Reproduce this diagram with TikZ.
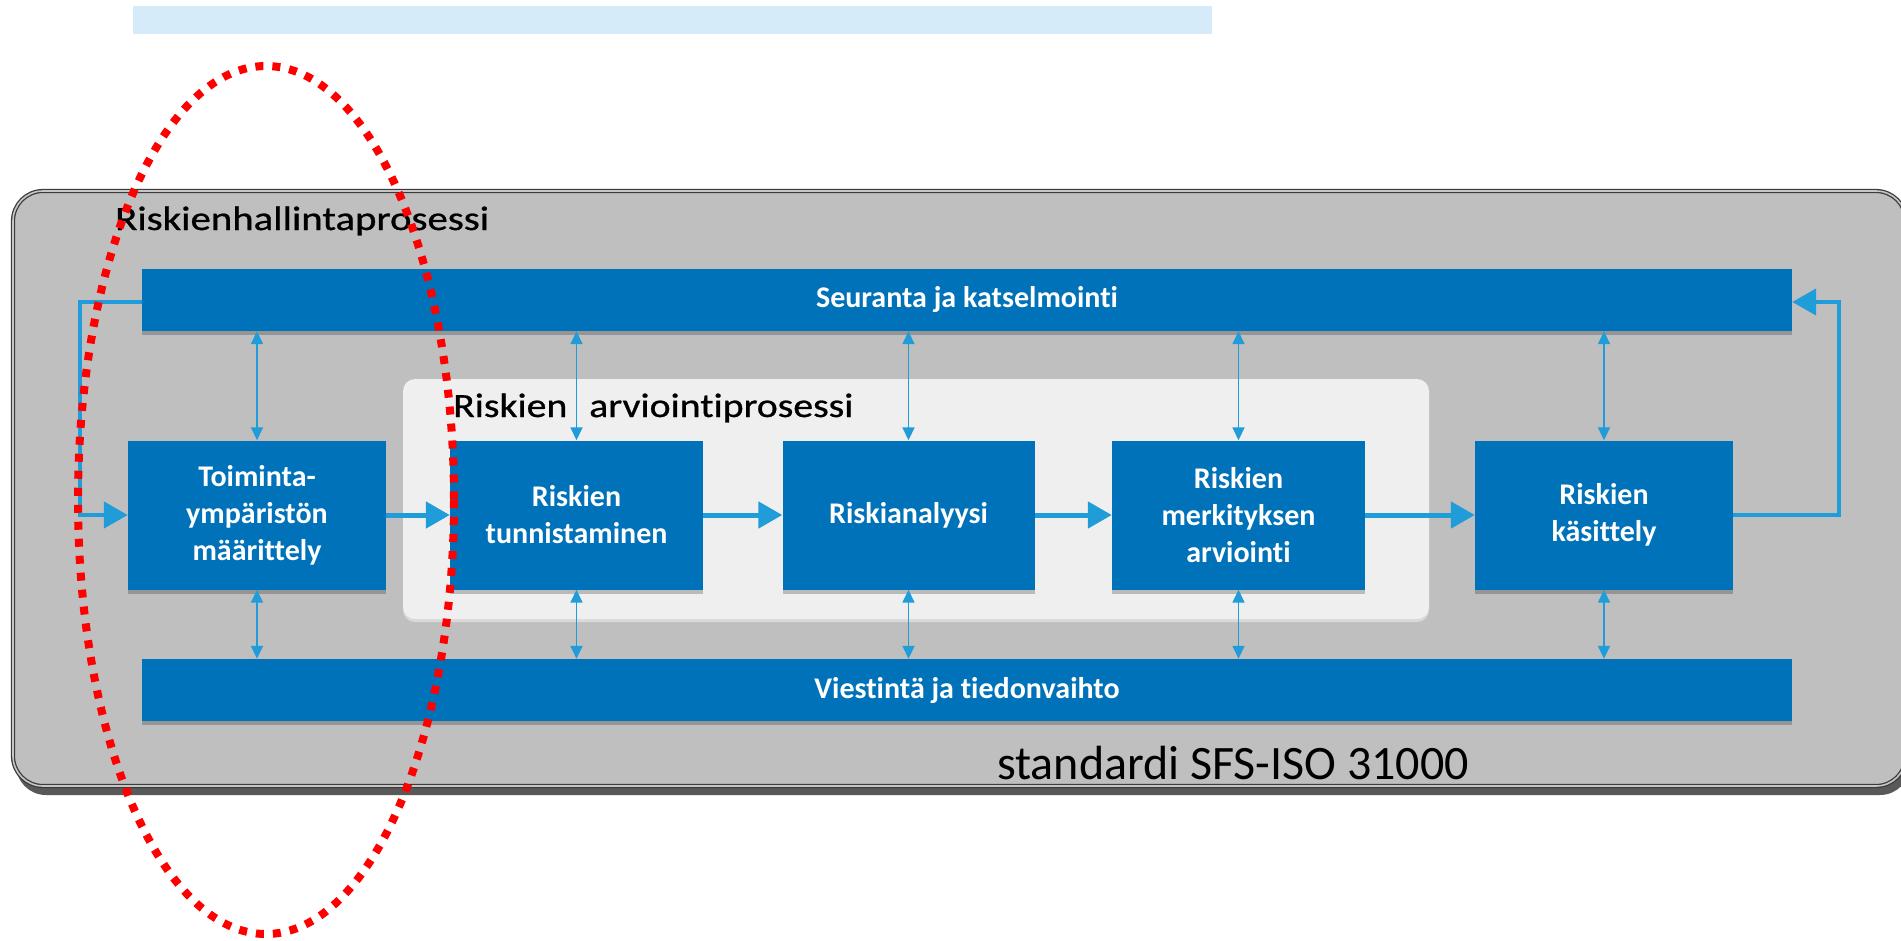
\documentclass[tikz,border=0pt]{standalone}
\usepackage{fontspec}
\usepackage{graphicx}
\setmainfont{Carlito}[Ligatures=NoCommon]
\newfontfamily\titlefont{Carlito}[Ligatures=NoCommon, FakeBold=0.7]
\usetikzlibrary{arrows.meta,shadows}
\definecolor{boxblue}{RGB}{0,114,185}
\definecolor{arrblue}{RGB}{32,156,216}
\definecolor{bggray}{RGB}{191,191,191}
\definecolor{innerbg}{RGB}{239,239,239}
\definecolor{topbar}{RGB}{213,235,250}
\definecolor{framedark}{RGB}{60,60,60}
\begin{document}
\begin{tikzpicture}[x=1pt,y=-1pt,
  stepbox/.style={rectangle, fill=boxblue, text=white,
    font=\bfseries\fontsize{30}{37}\selectfont,
    align=center, inner sep=0pt, minimum height=149pt,
    drop shadow={shadow xshift=0pt, shadow yshift=-4pt, opacity=0.22, fill=black}},
  barbox/.style={rectangle, fill=boxblue, text=white, font=\bfseries\fontsize{30}{37}\selectfont,
    inner sep=0pt, minimum width=1650pt, minimum height=62pt,
    drop shadow={shadow xshift=0pt, shadow yshift=-4pt, opacity=0.22, fill=black}},
  flow/.style={arrblue, line width=5pt, -{Triangle[length=24pt,width=26pt]}},
  loopline/.style={arrblue, line width=4.5pt, line join=miter, -{Triangle[length=24pt,width=26pt]}},
  link/.style={arrblue, line width=1.6pt, {Triangle[length=13pt,width=12pt]}-{Triangle[length=13pt,width=12pt]}},
  title/.style={anchor=base west, inner sep=0pt, text=black, font=\titlefont\fontsize{34}{40}\selectfont},
]
\clip (0,0) rectangle (1901,940);
\fill[white] (0,0) rectangle (1901,940);
% light blue bar at top
\fill[topbar] (133,6) rectangle (1212,34);
% outer frame
\fill[black!65, rounded corners=30] (16,196) rectangle (1910,795);
\draw[fill=bggray, draw=framedark, double=gray!45, double distance=1.6pt, line width=1.3pt, rounded corners=30]
  (13,191) rectangle (1906,786);
% inner assessment area
\fill[black!15, rounded corners=12] (403,382) rectangle (1429,622);
\fill[innerbg, rounded corners=12] (403,379) rectangle (1429,619);
% titles
\node[title] (t1) at (115,230) {\scalebox{1.2}[1]{Riskienhallintaprosessi}};
\node[title] (t2) at (453,417) {\scalebox{1.17}[1]{Riskien\hspace{0.55em}arviointiprosessi}};
\node[anchor=base west, inner sep=0pt, text=black, font=\fontsize{48}{54}\selectfont] (t3) at (997,779) {standardi SFS-ISO 31000};
% bars
\node[barbox] (seur) at (967,300) {Seuranta ja katselmointi};
\node[barbox] (viest) at (967,690) {Viestintä ja tiedonvaihto};
% process boxes
\node[stepbox, minimum width=258pt] (toim) at (257,515) {Toiminta-\\ympäristön\\määrittely};
\node[stepbox, minimum width=253pt] (tunn) at (576.5,515) {Riskien\\tunnistaminen};
\node[stepbox, minimum width=252pt] (anal) at (908.5,515) {Riskianalyysi};
\node[stepbox, minimum width=253pt] (merk) at (1238.5,515) {Riskien\\merkityksen\\arviointi};
\node[stepbox, minimum width=258pt] (kasit) at (1604,515) {Riskien\\käsittely};
% flow arrows
\draw[flow] (toim.east) -- (tunn.west);
\draw[flow] (tunn.east) -- (anal.west);
\draw[flow] (anal.east) -- (merk.west);
\draw[flow] (merk.east) -- (kasit.west);
% feedback loops
\coordinate (lc) at (80,302);
\coordinate (rc) at (1839,302);
\draw[loopline] (seur.west |- lc) -- (lc) |- (toim.west);
\draw[loopline] (kasit.east) -| (rc) -- (seur.east |- rc);
% vertical links
\foreach \b in {toim,tunn,anal,merk,kasit}{
  \draw[link] (\b.north) -- (\b.north |- seur.south);
  \draw[link] (\b.south) -- (\b.south |- viest.north);
}
% red dotted ellipse
\draw[red, line width=8pt, dash pattern=on 8pt off 9pt] (266,500) ellipse [x radius=188, y radius=434];
\end{tikzpicture}
\end{document}
